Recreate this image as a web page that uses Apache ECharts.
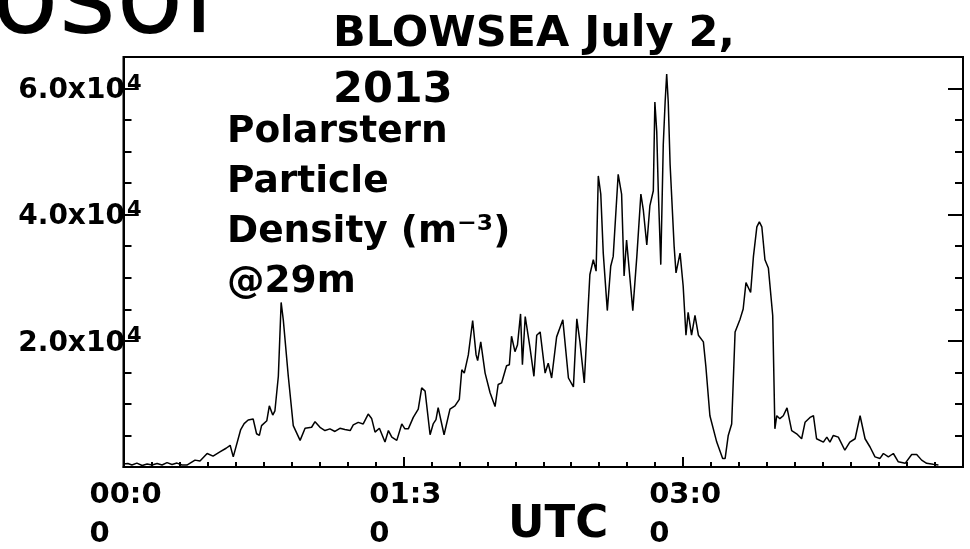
<!DOCTYPE html>
<html>
<head>
<meta charset="utf-8">
<script src="https://cdn.jsdelivr.net/npm/echarts@6/dist/echarts.min.js"></script>
<style>
  html, body { margin: 0; padding: 0; background: #fff; }
  #chart { width: 970px; height: 549px; }
</style>
</head>
<body>
<div id="chart"></div>
<script>
// Particle density time series, minutes after 00:00 UTC
const minutes = [
  0, 1.4, 2.7, 4.3, 6.0, 7.6, 9.2, 10.8, 12.4, 14.0, 15.6, 17.2, 18.8, 20.4,
  23.0, 24.6, 26.9, 28.8, 31.0, 33.0, 34.3, 35.3, 37.7, 38.8, 40.1, 41.7,
  42.8, 43.7, 44.4, 46.1, 46.9, 48.0, 48.7, 49.8, 50.7, 51.4, 53.0, 54.6,
  56.8, 58.4, 60.5, 61.6, 63.2, 64.8, 66.4, 68.0, 69.6, 71.2, 72.9, 73.9,
  75.5, 77.1, 78.7, 79.8, 80.9, 82.3, 84.1, 85.2, 86.3, 87.9, 89.5, 90.5,
  91.6, 93.2, 94.8, 95.9, 97.0, 98.6, 99.6, 100.5, 101.2, 103.1, 105.0,
  106.6, 108.0, 108.8, 109.6, 110.9, 112.3, 113.4, 113.9, 114.9, 116.3,
  117.9, 119.5, 120.5, 121.6, 123.2, 124.1, 124.8, 125.9, 126.7, 127.7,
  128.3, 129.2, 130.7, 132.0, 132.9, 134.0, 135.6, 136.6, 137.7, 139.3,
  141.3, 143.1, 144.7, 145.8, 146.8, 148.2, 149.5, 150.0, 151.1, 152.0,
  152.7, 153.5, 154.3, 155.6, 156.7, 157.5, 159.1, 160.2, 161.0, 161.8,
  163.8, 165.1, 166.4, 167.2, 168.3, 169.3, 170.4, 170.9, 171.5, 172.0,
  172.8, 173.6, 174.2, 174.7, 175.2, 175.8, 177.1, 177.7, 179.0, 180.0,
  180.9, 181.6, 182.7, 183.8, 184.9, 186.5, 187.3, 188.6, 190.8, 192.7,
  193.5, 194.5, 195.6, 196.7, 198.3, 199.3, 200.2, 201.7, 202.6, 203.7,
  204.5, 205.3, 206.3, 207.4, 208.8, 209.5, 210.1, 211.1, 212.2, 213.4,
  214.9, 216.5, 218.1, 219.2, 220.8, 221.9, 222.9, 225.1, 226.2, 227.2,
  228.3, 229.9, 232.0, 233.6, 235.3, 236.9, 238.5, 240.1, 241.7, 243.3,
  244.4, 246.0, 247.6, 249.2, 251.4, 253.5, 255.1, 256.7, 258.3, 260.4,
  262.1
];
const density = [
  470, 550, 310, 620, 230, 470, 310, 550, 310, 700, 390, 620, 310, 310,
  1090, 940, 2140, 1720, 2390, 2970, 3440, 1610, 5940, 6880, 7450, 7610,
  5270, 5000, 6560, 7340, 9690, 8230, 8910, 14380, 26090, 23280, 14380, 6560,
  4220, 6140, 6300, 7190, 6300, 5780, 6050, 5630, 6140, 5940, 5780, 6670,
  7080, 6830, 8390, 7700, 5520, 6140, 3950, 5780, 4730, 4220, 6830, 6050,
  6050, 7860, 9170, 12550, 12030, 5110, 6830, 7500, 9420, 5110, 9170,
  9690, 10730, 15420, 14890, 17770, 23230, 17770, 16880, 19840, 14890,
  11770, 9580, 13080, 13330, 16050, 16200, 20730, 18280, 19330, 24270,
  16200, 23860, 19060, 14380, 20890, 21410, 14890, 16450, 14110, 20630,
  23330, 14110, 12700, 23480, 19840, 13330, 25830, 30520, 32860, 31050,
  46140, 43280, 33910, 24800, 31830, 33390, 46410, 43280, 30270, 35980,
  24800, 33390, 43280, 40670, 35200, 41450, 43800, 57860, 53170, 43800,
  32080, 51090, 57860, 62300, 57860, 47970, 34950, 30780, 33910, 28700,
  20890, 24530, 20890, 24020, 20890, 19840, 15940, 8130, 3950, 1360,
  1360, 5000, 6830, 21410, 23440, 25050, 29220, 27660, 33390, 38080,
  38860, 38080, 32860, 31560, 24020, 6050, 8130, 7660, 8130, 9380,
  5780, 5270, 4480, 7080, 7860, 8130, 4480, 3950, 4730, 3950,
  5000, 4730, 2660, 3950, 4480, 8130, 4480, 3170, 1610, 1360,
  2140, 1610, 2140, 830, 580, 1980, 1980, 1090, 580, 420,
  310
];
// Time axis tick labels every 90 minutes
const timeTickLabels = ['00:00', '01:30', '03:00'];
// Density axis labels (mantissa of ×10^4)
const densityTickLabels = { 20000: '2.0', 40000: '4.0', 60000: '6.0' };

const chart = echarts.init(document.getElementById('chart'));
const black = '#000';
const font = 'DejaVu Sans';

const tickStyle = { color: black, width: 2 };

chart.setOption({
  animation: false,
  backgroundColor: '#fff',
  grid: {
    left: 123.5, right: 7, top: 57, bottom: 77,
    show: true, borderColor: black, borderWidth: 2, backgroundColor: 'transparent'
  },
  xAxis: [
    {
      type: 'value', min: 0, max: 270, interval: 9, position: 'bottom',
      axisLine: { show: true, lineStyle: { color: black, width: 2 } },
      axisTick: { show: true, inside: true, length: 5, lineStyle: tickStyle },
      axisLabel: { show: false },
      splitLine: { show: false }
    },
    {
      type: 'value', min: 0, max: 270, interval: 90, position: 'bottom',
      axisLine: { show: false },
      axisTick: { show: true, inside: true, length: 10, lineStyle: tickStyle },
      axisLabel: {
        show: true, margin: 9,
        formatter: function (v) {
          const s = timeTickLabels[Math.round(v / 90)];
          if (!s) return '';
          return '{a|' + s.slice(0, 4) + '}\n{a|' + s.slice(4) + '}';
        },
        rich: {
          a: {
            fontFamily: font, fontWeight: 'bold', fontSize: 29, color: black,
            width: 68, align: 'left', lineHeight: 39
          }
        }
      },
      splitLine: { show: false }
    }
  ],
  yAxis: [
    {
      type: 'value', min: 0, max: 65000, interval: 5000, position: 'left',
      axisLine: { show: true, lineStyle: { color: black, width: 2 } },
      axisTick: { show: true, inside: true, length: 8, lineStyle: tickStyle },
      axisLabel: { show: false },
      splitLine: { show: false }
    },
    {
      type: 'value', min: 0, max: 65000, interval: 20000, position: 'left',
      axisLine: { show: false },
      axisTick: { show: true, inside: true, length: 15, lineStyle: tickStyle },
      axisLabel: {
        show: true, margin: -18,
        formatter: function (v) {
          const m = densityTickLabels[v];
          return m ? '{n|' + m + 'x10}{s|4}' : '';
        },
        rich: {
          n: { fontFamily: font, fontWeight: 'bold', fontSize: 28, color: black, padding: [5, 0, 0, 0] },
          s: { fontFamily: font, fontWeight: 'bold', fontSize: 21, color: black, padding: [0, 0, 8, 2] }
        }
      },
      splitLine: { show: false }
    },
    {
      type: 'value', min: 0, max: 65000, interval: 5000, position: 'right',
      axisLine: { show: true, lineStyle: { color: black, width: 2 } },
      axisTick: { show: true, inside: true, length: 8, lineStyle: tickStyle },
      axisLabel: { show: false },
      splitLine: { show: false }
    },
    {
      type: 'value', min: 0, max: 65000, interval: 20000, position: 'right',
      axisLine: { show: false },
      axisTick: { show: true, inside: true, length: 15, lineStyle: tickStyle },
      axisLabel: { show: false },
      splitLine: { show: false }
    }
  ],
  series: [
    {
      type: 'line',
      xAxisIndex: 0, yAxisIndex: 0,
      data: minutes.map((t, i) => [t, density[i]]),
      showSymbol: false, symbol: 'none',
      lineStyle: { color: black, width: 1.5 },
      z: 3
    }
  ],
  graphic: [
    {
      type: 'text', x: 214, y: 3, z: 10,
      style: { text: 'Aerosol', fontFamily: font, fontSize: 110, fill: black,
               textAlign: 'right', textVerticalAlign: 'middle' }
    },
    {
      type: 'text', x: 333, y: 7, z: 10,
      style: { text: 'BLOWSEA July 2,\n2013', fontFamily: font, fontWeight: 'bold',
               fontSize: 43, lineHeight: 56, fill: black, textVerticalAlign: 'top' }
    },
    {
      type: 'text', x: 227, y: 107, z: 10,
      style: { text: 'Polarstern\nParticle\nDensity (m\u207B\u00B3)\n@29m', fontFamily: font,
               fontWeight: 'bold', fontSize: 37.5, lineHeight: 50, fill: black,
               textVerticalAlign: 'top' }
    },
    {
      type: 'text', x: 508, y: 525, z: 10,
      style: { text: 'UTC', fontFamily: font, fontWeight: 'bold', fontSize: 45,
               fill: black, textVerticalAlign: 'middle' }
    }
  ]
});
</script>
</body>
</html>
